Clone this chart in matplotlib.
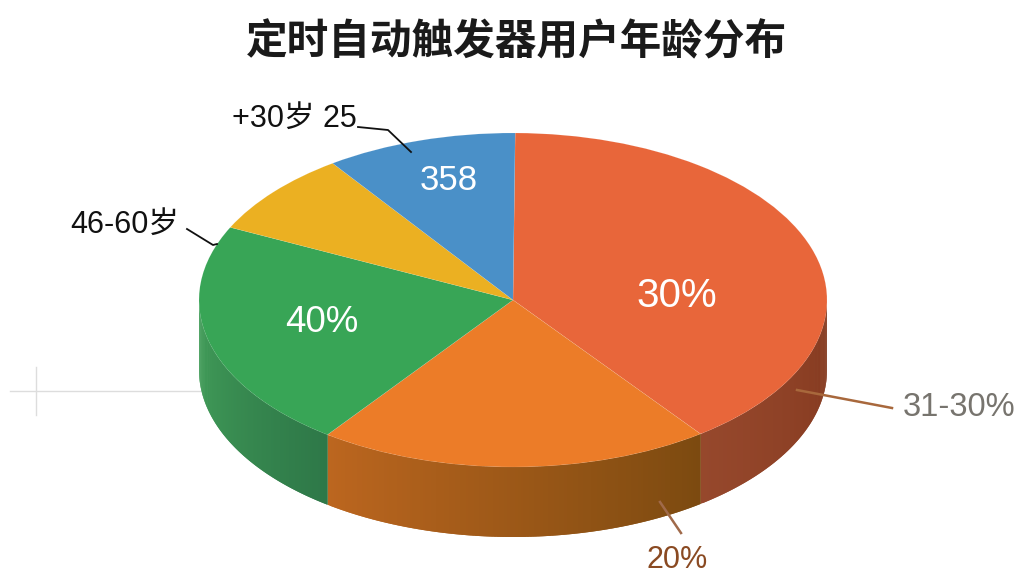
import numpy as np
import matplotlib
matplotlib.use('Agg')
import matplotlib.pyplot as plt
from matplotlib.colors import to_rgb
from matplotlib.collections import PolyCollection

plt.rcParams['font.family'] = ['Liberation Sans', 'Noto Sans CJK SC', 'DejaVu Sans']

title = '定时自动触发器用户年龄分布'

# share of each slice, clockwise from the top
shares = [39.7, 20.25, 22.1, 8.1, 9.85]
top_colors = ['#E8663A', '#EC7C28', '#38A556', '#EBB022', '#4A90C8']
side_left = ['#96482C', '#BC661F', '#43A05A', '#B98A1C', '#3A729F']
side_right = ['#84391F', '#7C4A10', '#2E7848', '#B98A1C', '#3A729F']
inner_labels = ['30%', '', '40%', '', '358']
inner_sizes = [29, 0, 26.5, 0, 25]

# pie geometry in pixels
cx, cy = 513, 300
rx, ry = 314, 167
depth = 70 / ry

fig = plt.figure(figsize=(10.24, 5.76), dpi=100)

# pie axes: data unit = pie radius, stretched to an ellipse
ax = fig.add_axes([0, 0, 1, 1])
wedges, _ = ax.pie(shares, colors=top_colors, startangle=89.6, counterclock=False,
                   wedgeprops={'linewidth': 0.3, 'edgecolor': '#ffffff30', 'zorder': 3})
ax.set_aspect('auto')
ax.set_xlim(-cx / rx, (1024 - cx) / rx)
ax.set_ylim((cy - 576) / ry, cy / ry)

# side wall, only the part of each slice facing the viewer
for w, c1, c2 in zip(wedges, side_left, side_right):
    t1 = max(w.theta1 % 360 if w.theta1 % 360 > 90 else w.theta1 % 360 + 360, 180)
    t2 = w.theta2 % 360
    if t2 <= 90:
        t2 += 360
    t2 = min(t2, 360)
    if t2 <= t1:
        continue
    th = np.radians(np.linspace(t1, t2, int(t2 - t1) * 2 + 2))
    polys = []
    cols = []
    for i in range(len(th) - 1):
        # each strip runs over the start of the next one so no seams show
        a, b = th[i], th[min(i + 2, len(th) - 1)]
        polys.append([(np.cos(a), np.sin(a)), (np.cos(th[i + 1]), np.sin(th[i + 1])),
                      (np.cos(b), np.sin(b)), (np.cos(b), np.sin(b) - depth),
                      (np.cos(th[i + 1]), np.sin(th[i + 1]) - depth),
                      (np.cos(a), np.sin(a) - depth)])
        f = i / max(len(th) - 2, 1)
        cols.append(tuple((1 - f) * np.array(to_rgb(c1)) + f * np.array(to_rgb(c2))))
    ax.add_collection(PolyCollection(polys, facecolors=cols, edgecolors='none',
                                     linewidths=0, zorder=2))

# overlay in pixel coordinates for the text and leader lines
ov = fig.add_axes([0, 0, 1, 1])
ov.set_xlim(0, 1024)
ov.set_ylim(576, 0)
ov.axis('off')

# faint cross left of the pie
ax.plot([(10 - cx) / rx, (200 - cx) / rx], [(cy - 391) / ry] * 2, color='#dddddd', lw=1, zorder=1)
ax.plot([(36 - cx) / rx] * 2, [(cy - 367) / ry, (cy - 415) / ry], color='#dddddd', lw=1, zorder=1)

ov.text(516, 43, title, fontsize=30, fontweight='bold', ha='center', va='center', color='#1a1a1a')

# labels inside the slices
inner_pos = [(677, 296), None, (322, 322), None, (449, 180)]
for lab, size, pos in zip(inner_labels, inner_sizes, inner_pos):
    if lab:
        ov.text(pos[0], pos[1], lab, fontsize=size, color='white', ha='center', va='center')

# outside labels
ov.text(232, 119, '+30岁 25', fontsize=22, color='#111111', ha='left', va='center')
ov.text(70, 225, '46-60岁', fontsize=22, color='#111111', ha='left', va='center')
ov.text(903, 408, '31-30%', fontsize=23.5, color='#77746e', ha='left', va='center')
ov.text(677, 560, '20%', fontsize=22, color='#8A4A22', ha='center', va='center')

# leader lines
ov.plot([358, 388, 411], [127, 130, 152], color='#111111', lw=1.3)
ov.plot([187, 213, 217], [229, 245, 244], color='#111111', lw=1.3)
ov.plot([797, 892], [390, 408], color='#A8683C', lw=1.8)
ov.plot([660, 681], [502, 533], color='#A06A4A', lw=1.8)

plt.savefig('out.png', dpi=100)
plt.close()
